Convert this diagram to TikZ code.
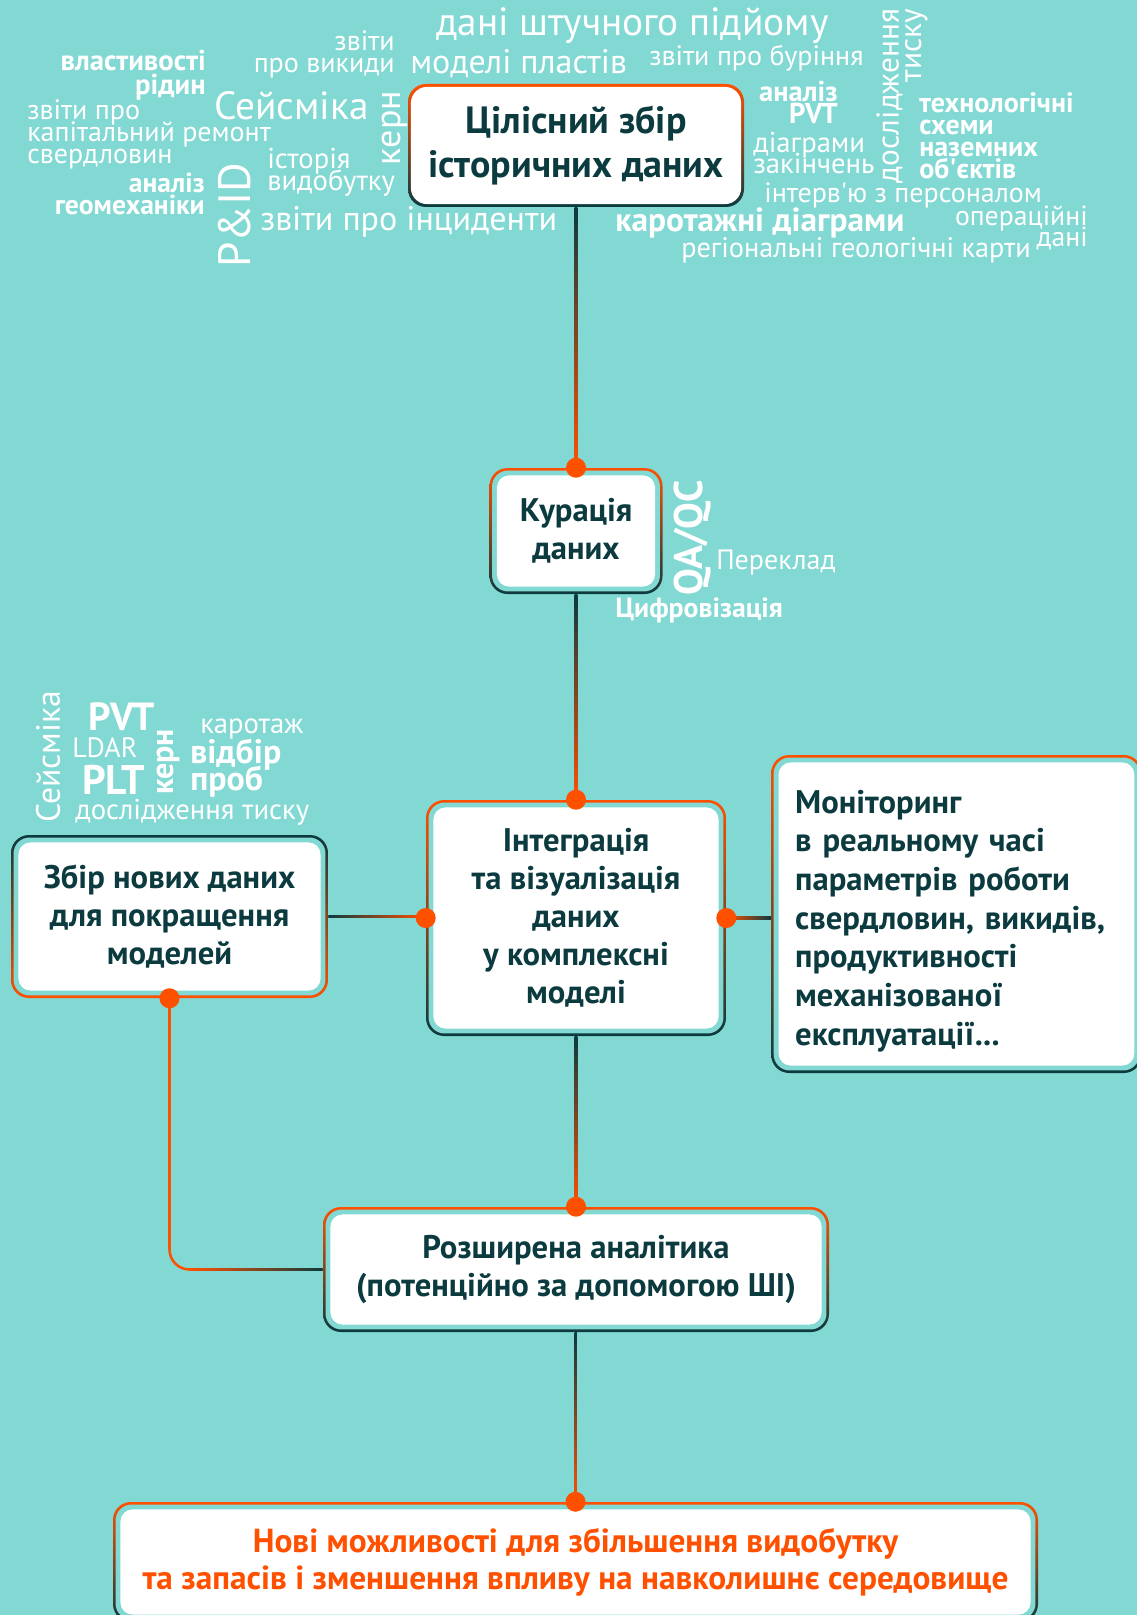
\documentclass[tikz,border=0pt]{standalone}
\usepackage{fontspec}
\setmainfont{PT Sans}
\usepackage{xcolor}
\usetikzlibrary{positioning}
\definecolor{sea}{HTML}{82D8D3}
\definecolor{hot}{HTML}{FF5000}
\definecolor{ink}{HTML}{0B3A3F}
\newcommand\setfs[2]{\fontsize{#1}{#2}\selectfont\lineskiplimit=-100pt\relax}
\tikzset{
card/.style = {rectangle, rounded corners=13.5pt, inner sep=0pt, text=ink,
               align=center, font=\bfseries\setfs{24.5pt}{28.5pt},
               path picture={
                 \fill[sea, rounded corners=12pt]
                   ([shift={(1.9pt,-1.9pt)}]path picture bounding box.north west) rectangle
                   ([shift={(-1.9pt,1.9pt)}]path picture bounding box.south east);
                 \fill[white, rounded corners=9pt]
                   ([shift={(5.6pt,-5.6pt)}]path picture bounding box.north west) rectangle
                   ([shift={(-5.6pt,5.6pt)}]path picture bounding box.south east);
               }},
bigcard/.style = {rectangle, rounded corners=13.5pt, inner sep=0pt, text=ink,
               align=center, font=\bfseries\setfs{28.5pt}{33pt},
               path picture={
                 \fill[white, rounded corners=12pt]
                   ([shift={(2.2pt,-2.2pt)}]path picture bounding box.north west) rectangle
                   ([shift={(-2.2pt,2.2pt)}]path picture bounding box.south east);
               }},
hot top/.style = {top color=hot, bottom color=ink},
hot bottom/.style = {top color=ink, bottom color=hot},
dot/.style = {circle, fill=hot, minimum size=15pt, inner sep=0pt},
wire/.style = {line width=1.9pt},
word/.style 2 args = {text=white, inner sep=0pt, align=left, font=\setfs{#1}{#2}},
wordb/.style 2 args = {text=white, inner sep=0pt, align=left, font=\bfseries\setfs{#1}{#2}}
}

\begin{document}
\begin{tikzpicture}[x=0.75pt, y=-0.75pt]
    \useasboundingbox (0,0) rectangle (1137,1615);
    \clip (0,0) rectangle (1137,1615);
    \fill[sea] (0,0) rectangle (1137,1615);

    % word cloud round the top box
    \node[word={29.5pt}{29.5pt}, anchor=west] (wLift) at (436,26) {дані штучного підйому};
    \node[word={25.5pt}{25.5pt}, anchor=west] (wModels) at (410,64) {моделі пластів};
    \node[word={21pt}{21pt}, anchor=west] (wDrill) at (649,58) {звіти про буріння};
    \node[word={21pt}{16.5pt}, anchor=east, align=right] (wEmis) at (395,54) {звіти\\про викиди};
    \node[wordb={21.5pt}{18pt}, anchor=east, align=right] (wFluid) at (206,75) {властивості\\рідин};
    \node[word={29.5pt}{29.5pt}, anchor=west] (wSeis) at (214,106) {Сейсміка};
    \node[word={27pt}{27pt}, rotate=90] (wCore) at (395,128) {керн};
    \node[word={21pt}{16.5pt}, anchor=west] (wRepair) at (27,134) {звіти про\\капітальний ремонт\\свердловин};
    \node[word={21.5pt}{16.5pt}, anchor=west] (wProd) at (267,172) {історія\\видобутку};
    \node[wordb={20.7pt}{16.8pt}, anchor=east, align=right] (wGeo) at (205,194) {аналіз\\геомеханіки};
    \node[word={34pt}{34pt}, rotate=90] (wPid) at (235,215) {P\&ID};
    \node[word={25.5pt}{25.5pt}, anchor=west] (wIncid) at (260,222) {звіти про інциденти};
    \node[wordb={21.5pt}{16.5pt}, anchor=east, align=right] (wPvt) at (838,102) {аналіз\\PVT};
    \node[word={21.5pt}{16pt}, anchor=west] (wCompl) at (753,153) {діаграми\\закінчень};
    \node[word={23.5pt}{16.8pt}, rotate=90, align=right] (wPress) at (902,96) {дослідження\\тиску};
    \node[wordb={21pt}{16.5pt}, anchor=west] (wFacil) at (919,135.5) {технологічні\\схеми\\наземних\\об\textquotesingle єктів};
    \node[word={21pt}{21pt}, anchor=west] (wStaff) at (764,195) {інтерв\textquotesingle ю з персоналом};
    \node[wordb={25pt}{25pt}, anchor=west] (wLogs) at (615,223) {каротажні діаграми};
    \node[word={20.8pt}{16pt}, anchor=east, align=right] (wOps) at (1088,228) {операційні\\дані};
    \node[word={21.2pt}{21.2pt}, anchor=west] (wMaps) at (681,250) {регіональні геологічні карти};

    % words by the curation box
    \node[wordb={30pt}{30pt}, rotate=90] (wQa) at (693,538) {QA/QC};
    \node[word={21pt}{21pt}, anchor=west] (wTrans) at (716,562) {Переклад};
    \node[wordb={20.8pt}{20.8pt}, anchor=west] (wDigit) at (615,610) {Цифровізація};

    % words over the new data box
    \node[word={25.2pt}{25.2pt}, rotate=90] (nSeis) at (48,757) {Сейсміка};
    \node[wordb={29.4pt}{29.4pt}, anchor=west] (nPvt) at (88,717) {PVT};
    \node[word={21pt}{21pt}, anchor=west] (nLdar) at (72,748) {LDAR};
    \node[wordb={31pt}{31pt}, anchor=west] (nPlt) at (82,780) {PLT};
    \node[wordb={24pt}{24pt}, rotate=90] (nCore) at (168,762) {керн};
    \node[word={21.5pt}{21.5pt}, anchor=west] (nLog) at (200,729) {каротаж};
    \node[wordb={25.4pt}{20.5pt}, anchor=west] (nSamp) at (190,768) {відбір\\проб};
    \node[word={21.5pt}{21.5pt}, anchor=west] (nPress) at (75,812) {дослідження тиску};

    % boxes
    \node[bigcard, hot top, minimum width=252pt, minimum height=92.25pt] (hist) at (576,145.5)
        {Цілісний збір\\історичних даних};
    \node[card, hot top, minimum width=129.75pt, minimum height=94.5pt] (cur) at (576,531)
        {Курація\\даних};
    \node[card, hot top, minimum width=225pt, minimum height=177pt] (intg) at (576,918)
        {Інтеграція\\та візуалізація\\даних\\у комплексні\\моделі};
    \node[card, hot bottom, minimum width=237.75pt, minimum height=122.25pt] (newd) at (169.5,916.5)
        {Збір нових даних\\для покращення\\моделей};
    \node[card, hot top, align=left, inner xsep=18pt, text width=242pt, minimum height=238.5pt,
          font=\bfseries\setfs{24.5pt}{29pt}] (mon) at (956.5,914)
        {\rule{0pt}{28pt}Моніторинг\\в реальному часі\\параметрів роботи\\свердловин, викидів,\\продуктивності\\механізованої\\експлуатації...};
    \node[card, hot top, minimum width=379.5pt, minimum height=93.75pt,
          font=\bfseries\setfs{24.5pt}{29pt}] (ana) at (576,1269.5)
        {Розширена аналітика\\(потенційно за допомогою ШІ)};
    \node[card, hot top, text=hot, minimum width=693.75pt, minimum height=90pt,
          font=\bfseries\setfs{25pt}{27.75pt}] (fin) at (575.5,1562)
        {Нові можливості для збільшення видобутку\\та запасів і зменшення впливу на навколишнє середовище};

    % connectors
    \shade[top color=ink, bottom color=hot] ([xshift=-0.95pt]hist.south) rectangle ([xshift=0.95pt]cur.north);
    \shade[top color=ink, bottom color=hot] ([xshift=-0.95pt]cur.south) rectangle ([xshift=0.95pt]intg.north);
    \shade[top color=ink, bottom color=hot] ([xshift=-0.95pt]intg.south) rectangle ([xshift=0.95pt]ana.north);
    \shade[top color=ink, bottom color=hot] ([xshift=-0.95pt]ana.south) rectangle ([xshift=0.95pt]fin.north);
    \shade[left color=ink, right color=hot] ([yshift=0.95pt]newd.east) rectangle ([yshift=-0.95pt]newd.east -| intg.west);
    \shade[left color=hot, right color=ink] ([yshift=0.95pt]intg.east) rectangle ([yshift=-0.95pt]intg.east -| mon.west);
    \coordinate (elbow) at (newd.south |- ana.west);
    \draw[wire, hot, rounded corners=15pt] (newd.south) -- (elbow) -- (ana.west);
    \shade[left color=hot, right color=ink] ([shift={(15pt,0.95pt)}]elbow) rectangle ([yshift=-0.95pt]ana.west);

    \node[dot] (dCur) at (cur.north) {};
    \node[dot] (dIntgT) at (intg.north) {};
    \node[dot] (dIntgL) at (intg.west) {};
    \node[dot] (dIntgR) at (intg.east) {};
    \node[dot] (dNew) at (newd.south) {};
    \node[dot] (dAna) at (ana.north) {};
    \node[dot] (dFin) at (fin.north) {};
\end{tikzpicture}
\end{document}
